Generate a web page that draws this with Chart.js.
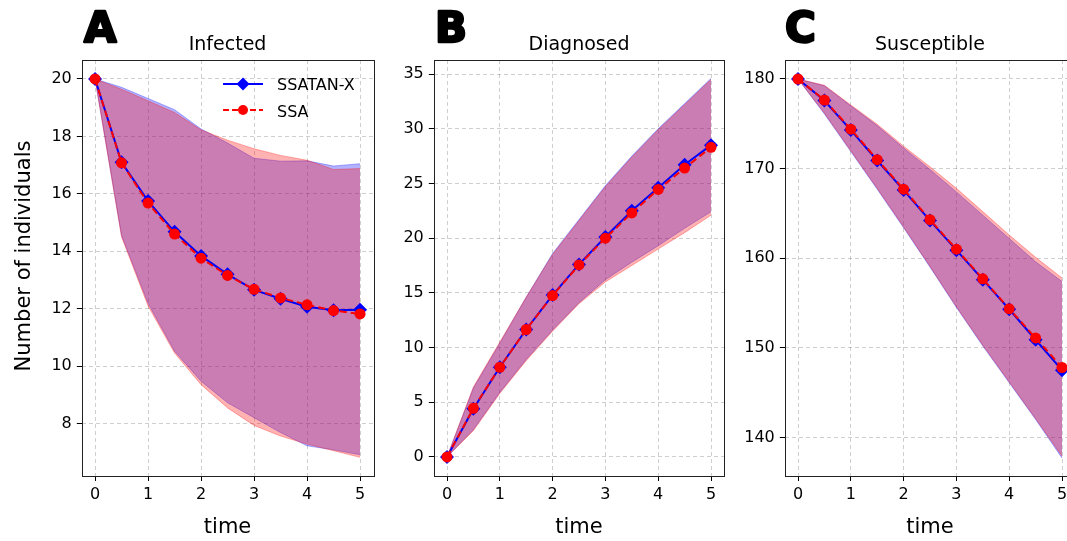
<!DOCTYPE html>
<html>
<head>
<meta charset="utf-8">
<script src="https://cdn.jsdelivr.net/npm/chart.js@4.4.1/dist/chart.umd.min.js"></script>
<style>
html, body { margin: 0; padding: 0; width: 1067px; height: 541px; overflow: hidden; background: #fff; }
canvas { position: absolute; left: 0; top: 0; }
</style>
</head>
<body>
<canvas id="chartA" width="1067" height="541"></canvas>
<canvas id="chartB" width="1067" height="541"></canvas>
<canvas id="chartC" width="1110" height="541"></canvas>
<script>
// time points and tick labels
const times = [0, 0.5, 1, 1.5, 2, 2.5, 3, 3.5, 4, 4.5, 5];
const xTicks = [0, 1, 2, 3, 4, 5];

// Infected
const infectedTanMean  = [20, 17.10, 15.75, 14.68, 13.84, 13.20, 12.66, 12.35, 12.07, 11.95, 11.97];
const infectedSsaMean  = [20, 17.08, 15.68, 14.60, 13.76, 13.16, 12.68, 12.38, 12.14, 11.94, 11.82];
const infectedTanUpper = [20, 19.71, 19.32, 18.93, 18.26, 17.77, 17.24, 17.14, 17.15, 16.97, 17.05];
const infectedTanLower = [20, 14.55, 12.19, 10.52, 9.48, 8.73, 8.21, 7.69, 7.23, 7.09, 6.92];
const infectedSsaUpper = [20, 19.64, 19.24, 18.83, 18.23, 17.87, 17.57, 17.34, 17.17, 16.85, 16.88];
const infectedSsaLower = [20, 14.50, 12.10, 10.46, 9.36, 8.55, 7.94, 7.57, 7.29, 7.06, 6.83];
const infectedTicks = [8, 10, 12, 14, 16, 18, 20];

// Diagnosed
const diagnosedTanMean  = [0, 4.40, 8.20, 11.65, 14.80, 17.60, 20.10, 22.50, 24.60, 26.70, 28.50];
const diagnosedSsaMean  = [0, 4.45, 8.20, 11.65, 14.75, 17.55, 20.00, 22.30, 24.45, 26.40, 28.30];
const diagnosedTanUpper = [0, 6.30, 10.40, 14.60, 18.60, 21.70, 24.80, 27.50, 30.00, 32.30, 34.60];
const diagnosedTanLower = [0, 2.50, 5.90, 8.90, 11.60, 14.10, 16.20, 17.80, 19.30, 20.90, 22.40];
const diagnosedSsaUpper = [0, 6.40, 10.50, 14.60, 18.50, 21.60, 24.70, 27.40, 29.90, 32.20, 34.50];
const diagnosedSsaLower = [0, 2.40, 5.80, 8.80, 11.50, 14.00, 16.00, 17.50, 19.00, 20.50, 22.10];
const diagnosedTicks = [0, 5, 10, 15, 20, 25, 30, 35];

// Susceptible
const susceptibleTanMean  = [180, 177.60, 174.30, 170.90, 167.60, 164.20, 160.90, 157.60, 154.30, 150.90, 147.50];
const susceptibleSsaMean  = [180, 177.65, 174.40, 171.00, 167.70, 164.30, 161.00, 157.70, 154.35, 151.10, 147.80];
const susceptibleTanUpper = [180, 179.25, 177.00, 174.80, 172.30, 169.90, 167.40, 164.80, 162.20, 159.60, 157.40];
const susceptibleTanLower = [180, 176.10, 171.90, 167.70, 163.40, 159.00, 154.50, 150.20, 146.10, 142.00, 137.70];
const susceptibleSsaUpper = [180, 179.30, 177.10, 174.95, 172.50, 170.20, 167.80, 165.20, 162.60, 160.10, 157.80];
const susceptibleSsaLower = [180, 176.20, 172.00, 167.80, 163.50, 159.10, 154.60, 150.30, 146.20, 142.10, 137.90];
const susceptibleTicks = [140, 150, 160, 170, 180];

const FONT = '"DejaVu Sans", sans-serif';
const gridColor = 'rgba(0,0,0,0.19)';
const pts = arr => times.map((t, i) => ({ x: t, y: arr[i] }));

// titles, panel letters, frame, legend
const decor = {
    id: 'decor',
    afterDraw(chart, args, o) {
        const { ctx, chartArea: a } = chart;
        ctx.save();
        ctx.strokeStyle = '#222';
        ctx.lineWidth = 1;
        ctx.strokeRect(Math.round(a.left) + 0.5, Math.round(a.top) + 0.5,
            Math.round(a.right - a.left), Math.round(a.bottom - a.top));

        ctx.fillStyle = '#000';
        ctx.textBaseline = 'alphabetic';
        ctx.textAlign = 'left';
        ctx.font = 'bold 42px ' + FONT;
        ctx.lineWidth = 2.5;
        ctx.lineJoin = 'round';
        ctx.strokeStyle = '#000';
        ctx.strokeText(o.letter, o.letterX + 1, 42);
        ctx.fillText(o.letter, o.letterX + 1, 42);

        ctx.textAlign = 'center';
        ctx.font = '19px ' + FONT;
        ctx.fillText(o.title, (a.left + a.right) / 2, 50);

        ctx.font = '21px ' + FONT;
        ctx.fillText('time', (a.left + a.right) / 2, 533);

        if (o.ylabel) {
            ctx.save();
            ctx.translate(30, 256);
            ctx.rotate(-Math.PI / 2);
            ctx.fillText(o.ylabel, 0, 0);
            ctx.restore();
        }

        if (o.legend) {
            const x0 = 223, x1 = 263, xm = 243;
            // SSATAN-X
            ctx.strokeStyle = 'blue';
            ctx.lineWidth = 2;
            ctx.beginPath(); ctx.moveTo(x0, 84); ctx.lineTo(x1, 84); ctx.stroke();
            ctx.fillStyle = 'blue';
            ctx.beginPath();
            ctx.moveTo(xm - 6.5, 84); ctx.lineTo(xm, 77.5); ctx.lineTo(xm + 6.5, 84); ctx.lineTo(xm, 90.5);
            ctx.closePath(); ctx.fill();
            // SSA
            ctx.strokeStyle = 'red';
            ctx.setLineDash([6, 3]);
            ctx.beginPath(); ctx.moveTo(x0, 110); ctx.lineTo(x1, 110); ctx.stroke();
            ctx.setLineDash([]);
            ctx.fillStyle = 'red';
            ctx.beginPath(); ctx.arc(xm, 110, 5, 0, Math.PI * 2); ctx.fill();

            ctx.fillStyle = '#000';
            ctx.textAlign = 'left';
            ctx.font = '16px ' + FONT;
            ctx.fillText('SSATAN-X', 277, 90);
            ctx.fillText('SSA', 277, 116.5);
        }
        ctx.restore();
    }
};

function axis(extra) {
    return Object.assign({
        type: 'linear',
        grid: { color: gridColor, lineWidth: 1, tickColor: '#000', tickLength: 5, tickWidth: 1, tickBorderDash: [] },
        border: { display: false, dash: [4, 3] },
        ticks: { font: { family: FONT, size: 16 }, color: '#000', autoSkip: false, maxRotation: 0 }
    }, extra);
}

function makeChart(p) {
    const band = (data, color, fillTo) => ({
        data: pts(data), borderColor: color, borderWidth: 1, pointRadius: 0,
        backgroundColor: color, fill: fillTo === undefined ? false : fillTo, tension: 0
    });
    return new Chart(document.getElementById(p.id), {
        type: 'line',
        data: {
            datasets: [
                { label: 'SSA', data: pts(p.ssaMean), borderColor: 'red', borderWidth: 2, borderDash: [7, 4],
                  pointStyle: 'circle', pointRadius: 5.5, pointBackgroundColor: 'red', pointBorderWidth: 0, fill: false },
                { label: 'SSATAN-X', data: pts(p.tanMean), borderColor: 'blue', borderWidth: 2,
                  pointStyle: 'rectRot', pointRadius: 7, pointBackgroundColor: 'blue', pointBorderWidth: 0, fill: false },
                band(p.ssaUpper, 'rgba(255,0,0,0.3)', 3),
                band(p.ssaLower, 'rgba(255,0,0,0.3)'),
                band(p.tanUpper, 'rgba(0,0,255,0.3)', 5),
                band(p.tanLower, 'rgba(0,0,255,0.3)')
            ]
        },
        options: {
            responsive: false,
            animation: false,
            events: [],
            layout: { padding: { left: p.left - 50, right: p.canvasW - p.right, top: 60, bottom: 541 - 476 - 40 } },
            plugins: { legend: { display: false }, tooltip: { enabled: false }, decor: p.decor },
            scales: {
                x: axis({
                    min: -0.25, max: 5.25,
                    afterBuildTicks: s => { s.ticks = xTicks.map(v => ({ value: v })); },
                    afterFit: s => { s.height = 40; },
                    ticks: { font: { family: FONT, size: 16 }, color: '#000', padding: 4, autoSkip: false, maxRotation: 0 }
                }),
                y: axis({
                    min: p.yMin, max: p.yMax,
                    afterBuildTicks: s => { s.ticks = p.yTicks.map(v => ({ value: v })); },
                    afterFit: s => { s.width = 50; },
                    ticks: { font: { family: FONT, size: 16 }, color: '#000', padding: 5, autoSkip: false }
                })
            }
        },
        plugins: [decor]
    });
}

makeChart({
    id: 'chartA', canvasW: 1067, left: 81.8, right: 373.3, yMin: 6.18, yMax: 20.66, yTicks: infectedTicks,
    tanMean: infectedTanMean, ssaMean: infectedSsaMean,
    tanUpper: infectedTanUpper, tanLower: infectedTanLower,
    ssaUpper: infectedSsaUpper, ssaLower: infectedSsaLower,
    decor: { letter: 'A', letterX: 83, title: 'Infected', ylabel: 'Number of individuals', legend: true }
});

makeChart({
    id: 'chartB', canvasW: 1067, left: 433.8, right: 724.2, yMin: -1.74, yMax: 36.28, yTicks: diagnosedTicks,
    tanMean: diagnosedTanMean, ssaMean: diagnosedSsaMean,
    tanUpper: diagnosedTanUpper, tanLower: diagnosedTanLower,
    ssaUpper: diagnosedSsaUpper, ssaLower: diagnosedSsaLower,
    decor: { letter: 'B', letterX: 434, title: 'Diagnosed' }
});

makeChart({
    id: 'chartC', canvasW: 1110, left: 784.8, right: 1075.2, yMin: 135.69, yMax: 182.12, yTicks: susceptibleTicks,
    tanMean: susceptibleTanMean, ssaMean: susceptibleSsaMean,
    tanUpper: susceptibleTanUpper, tanLower: susceptibleTanLower,
    ssaUpper: susceptibleSsaUpper, ssaLower: susceptibleSsaLower,
    decor: { letter: 'C', letterX: 784, title: 'Susceptible' }
});
</script>
</body>
</html>
